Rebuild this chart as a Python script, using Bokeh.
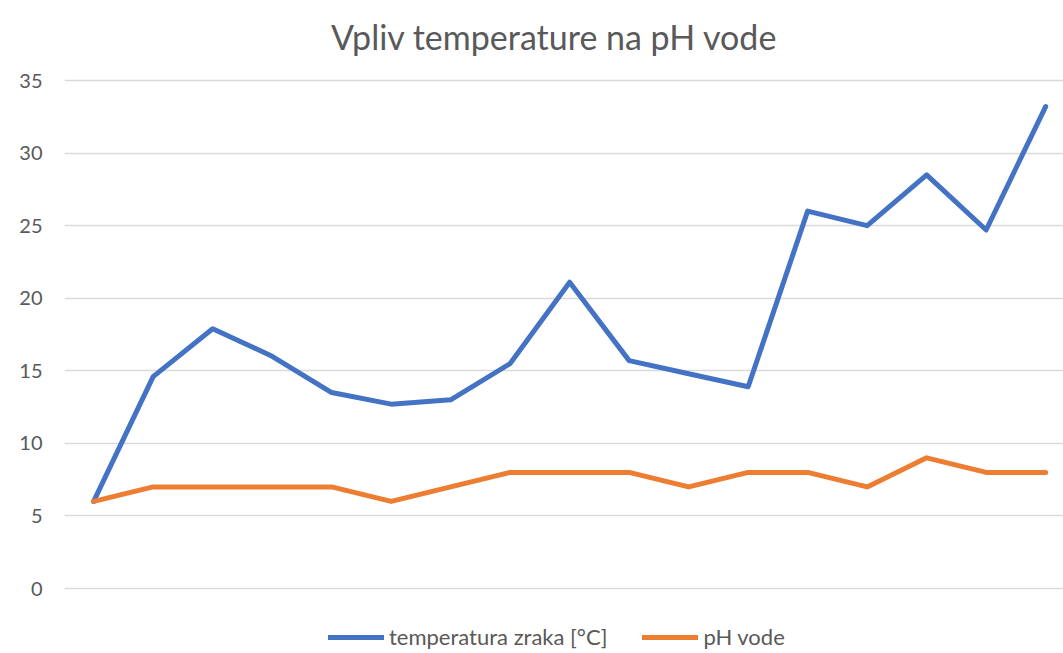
from bokeh.plotting import figure
from bokeh.models import Legend, LegendItem, Range1d, FixedTicker, Label
from bokeh.embed import file_html
from bokeh.resources import INLINE

# data
x_idx = list(range(17))
temperatura = [6, 14.6, 17.9, 16, 13.5, 12.7, 13, 15.5, 21.1, 15.7, 14.8, 13.9, 26, 25, 28.5, 24.7, 33.2]
ph_vode = [6, 7, 7, 7, 7, 6, 7, 8, 8, 8, 7, 8, 8, 7, 9, 8, 8]
series_names = ["temperatura zraka [°C]", "pH vode"]
y_ticks = [0, 5, 10, 15, 20, 25, 30, 35]
title_text = "Vpliv temperature na pH vode"

FONT = "Lato"
GREY = "#595959"

H = 653
TOP_PAD = 80      # px above the 35 gridline
BOT_PAD = 65      # px below the 0 gridline
px_per_unit = (H - TOP_PAD - BOT_PAD) / (y_ticks[-1] - y_ticks[0])
y0 = y_ticks[0] - BOT_PAD / px_per_unit
y1 = y_ticks[-1] + TOP_PAD / px_per_unit

p = figure(width=1063, height=H, output_backend="svg", toolbar_location=None,
           x_range=Range1d(-0.49, 16.3), y_range=Range1d(y0, y1),
           min_border_left=64, min_border_right=0, min_border_top=0, min_border_bottom=0)
p.outline_line_color = None
p.background_fill_color = "white"
p.border_fill_color = "white"

p.xaxis.visible = False
p.xgrid.grid_line_color = None
p.yaxis.ticker = FixedTicker(ticks=y_ticks)
p.yaxis.axis_line_color = None
p.yaxis.major_tick_line_color = None
p.yaxis.minor_tick_line_color = None
p.yaxis.major_label_text_font = FONT
p.yaxis.major_label_text_font_size = "20px"
p.yaxis.major_label_text_color = GREY
p.yaxis.major_label_standoff = 16
p.ygrid.grid_line_color = "#D9D9D9"
p.ygrid.grid_line_width = 1.5

r1 = p.line(x_idx, temperatura, line_color="#4472C4", line_width=5, line_cap="round", line_join="round")
r2 = p.line(x_idx, ph_vode, line_color="#ED7D31", line_width=5, line_cap="round", line_join="round")

title = Label(x=7.745, y=y_ticks[-1] + (TOP_PAD - 36) / px_per_unit, text=title_text,
              text_align="center", text_baseline="alphabetic",
              text_font=FONT, text_font_size="34px", text_color=GREY)
p.add_layout(title)

legend = Legend(items=[LegendItem(label=series_names[0], renderers=[r1]),
                       LegendItem(label=series_names[1], renderers=[r2])],
                orientation="horizontal", location=(264, 3),
                glyph_width=56, glyph_height=20, label_standoff=5, spacing=35,
                label_text_font=FONT, label_text_font_size="22px", label_text_color=GREY,
                border_line_color=None, background_fill_alpha=0, padding=0, margin=0)
p.add_layout(legend)

open("out.html", "w").write(file_html(p, INLINE))
